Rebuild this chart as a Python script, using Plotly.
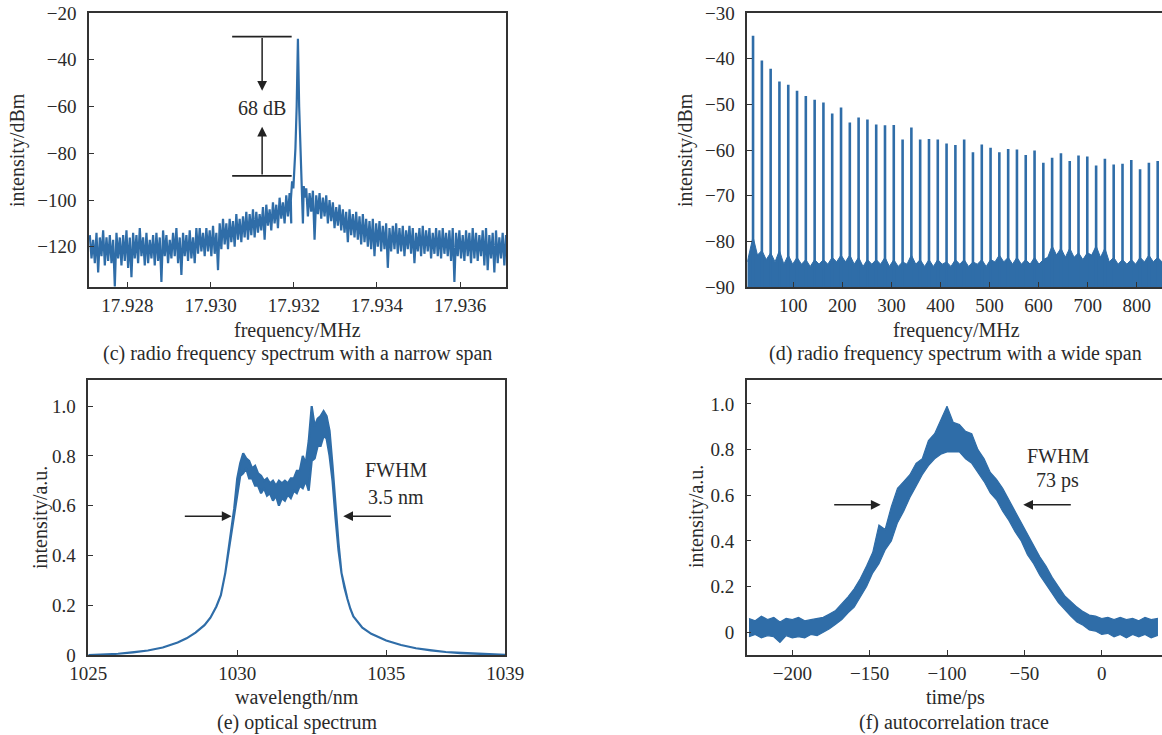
import numpy as np
import plotly.graph_objects as go

# ---------------- data ----------------
# (c) narrow-span RF spectrum: noise envelope (upper / lower)
c_left_upper = [-115,-117,-114,-116,-113,-116,-115,-117,-114,-116,
                -115,-113,-116,-114,-115,-112,-116,-114,-117,-115,
                -114,-116,-113,-115,-117,-114,-112,-116,-114,-115,
                -113,-116,-112,-112,-114,-112,-113,-111,-114,-110,
                -108,-110,-108,-109,-106,-108,-107,-105,-106,-104,
                -105,-106,-103,-102,-104,-101,-102,-99,-101,-98,
                -97]
c_left_lower = [-125,-127,-131,-124,-128,-126,-127,-137,-125,-128,
                -126,-129,-133,-125,-127,-124,-128,-127,-125,-128,
                -126,-135,-124,-127,-125,-124,-127,-132,-124,-126,
                -125,-127,-123,-122,-124,-122,-124,-123,-130,-121,
                -119,-121,-118,-120,-117,-118,-116,-117,-115,-116,
                -114,-113,-117,-111,-113,-110,-112,-108,-110,-107,
                -110]
c_peak_freq = [17.93193, 17.93196, 17.93199, 17.93201, 17.93204, 17.93207, 17.93210,
               17.93213, 17.93216, 17.93219, 17.93222, 17.93224, 17.93227]
c_peak_dbm = [-100, -92, -95, -88, -78, -60, -31, -60, -78, -88, -110, -94, -99]
c_right_upper = [-95,-97,-96,-98,-97,-99,-98,-100,-101,-103,
                 -102,-104,-105,-104,-106,-105,-107,-106,-108,-109,
                 -108,-110,-109,-111,-110,-112,-111,-110,-112,-111,
                 -113,-111,-112,-114,-112,-111,-113,-112,-114,-112,
                 -113,-112,-114,-113,-112,-114,-113,-115,-113,-114,
                 -112,-114,-115,-113,-112,-115,-114,-113,-116,-114,
                 -115]
c_right_lower = [-107,-105,-117,-106,-108,-107,-110,-109,-112,-111,
                 -113,-114,-118,-115,-116,-117,-119,-118,-120,-121,
                 -124,-120,-122,-121,-129,-122,-121,-123,-122,-124,
                 -121,-123,-127,-122,-124,-123,-122,-125,-123,-124,
                 -125,-123,-124,-126,-135,-124,-125,-126,-124,-127,
                 -125,-126,-124,-128,-130,-125,-131,-127,-125,-128,
                 -126]
c_xticks = [17.928, 17.930, 17.932, 17.934, 17.936]

# (d) wide-span RF spectrum
d_peak_freq = [17.9, 35.9, 53.8, 71.7, 89.7, 107.6, 125.5, 143.5, 161.4, 179.3,
               197.3, 215.2, 233.1, 251.1, 269.0, 286.9, 304.8, 322.8, 340.7, 358.6,
               376.6, 394.5, 412.4, 430.4, 448.3, 466.2, 484.2, 502.1, 520.0, 538.0,
               555.9, 573.8, 591.8, 609.7, 627.6, 645.6, 663.5, 681.4, 699.3, 717.3,
               735.2, 753.1, 771.1, 789.0, 806.9, 824.9, 842.8]
d_peak_dbm = [-35.0, -40.4, -42.2, -45.0, -45.7, -47.0, -48.2, -49.0, -49.6, -52.0,
              -50.7, -54.0, -52.9, -53.3, -54.4, -54.6, -54.5, -57.7, -55.1, -57.7,
              -57.6, -57.7, -58.6, -58.9, -57.7, -60.5, -58.8, -59.5, -60.5, -59.8,
              -59.9, -61.1, -60.1, -62.8, -61.7, -60.7, -62.4, -61.2, -61.4, -63.4,
              -61.9, -63.2, -63.0, -62.2, -64.2, -62.8, -62.4]
d_floor_at_peaks = [-79.0, -82.0, -82.5, -82.0, -83.0, -83.5, -84.0, -84.0, -84.0, -83.5,
                    -83.0, -83.0, -83.5, -84.0, -84.0, -83.5, -84.0, -84.5, -83.0, -84.0,
                    -84.0, -84.0, -84.5, -84.0, -84.0, -84.5, -84.0, -84.0, -83.0, -83.5,
                    -83.5, -84.0, -83.5, -84.0, -81.0, -81.5, -81.5, -82.5, -82.5, -81.0,
                    -81.5, -83.5, -84.0, -84.0, -83.5, -83.0, -83.5]
d_floor_between = [-84.5, -83.0, -84.0, -84.5, -85.0, -85.0, -85.0, -85.5, -85.0, -85.0,
                   -84.5, -84.5, -85.0, -85.5, -85.0, -85.0, -85.5, -85.5, -85.0, -85.0,
                   -85.5, -85.5, -85.0, -85.5, -85.0, -85.5, -85.0, -85.5, -84.5, -84.5,
                   -85.0, -85.0, -85.0, -85.0, -83.5, -83.0, -83.5, -83.5, -84.0, -83.0,
                   -83.5, -84.5, -85.0, -85.0, -85.0, -84.5, -84.5, -84.5]
d_xticks = [100, 200, 300, 400, 500, 600, 700, 800]

# (e) optical spectrum
e_wl = [1025.0, 1025.5, 1026.0, 1026.5, 1027.0, 1027.5, 1028.0, 1028.3, 1028.6, 1028.9,
        1029.1, 1029.3, 1029.45, 1029.6, 1029.7, 1029.8,
        1029.9, 1030.0, 1030.1, 1030.2, 1030.3, 1030.4, 1030.5, 1030.6, 1030.7, 1030.8,
        1030.9, 1031.0, 1031.1, 1031.2, 1031.3, 1031.4, 1031.5, 1031.6, 1031.7, 1031.8,
        1031.9, 1032.0, 1032.1, 1032.2, 1032.3, 1032.4, 1032.5, 1032.6, 1032.7, 1032.8,
        1032.9, 1033.0, 1033.1, 1033.2, 1033.3, 1033.4,
        1033.5, 1033.6, 1033.7, 1033.8, 1033.9, 1034.2, 1034.5, 1035.0, 1035.5, 1036.0,
        1036.5, 1037.0, 1037.5, 1038.0, 1038.5, 1039.0]
e_upper = [0.0, 0.002, 0.005, 0.01, 0.018, 0.03, 0.05, 0.067, 0.09, 0.12,
           0.15, 0.195, 0.24, 0.33, 0.41, 0.50,
           0.59, 0.71, 0.77, 0.81, 0.79, 0.78, 0.75, 0.76, 0.73, 0.72,
           0.70, 0.71, 0.69, 0.70, 0.68, 0.70, 0.69, 0.70, 0.69, 0.71,
           0.71, 0.74, 0.74, 0.80, 0.77, 0.86, 1.00, 0.92, 0.95, 0.96,
           0.98, 0.96, 0.90, 0.76, 0.59, 0.45,
           0.33, 0.27, 0.225, 0.185, 0.155, 0.11, 0.085, 0.058, 0.04, 0.027,
           0.018, 0.012, 0.007, 0.004, 0.002, 0.001]
e_lower = [0.0, 0.002, 0.005, 0.01, 0.018, 0.03, 0.05, 0.067, 0.09, 0.12,
           0.15, 0.195, 0.24, 0.33, 0.41, 0.50,
           0.56, 0.64, 0.72, 0.73, 0.75, 0.71, 0.71, 0.68, 0.68, 0.65,
           0.67, 0.64, 0.65, 0.62, 0.64, 0.60, 0.63, 0.62, 0.645, 0.63,
           0.66, 0.65, 0.68, 0.67, 0.70, 0.66, 0.78, 0.79, 0.84, 0.84,
           0.88, 0.87, 0.80, 0.70, 0.55, 0.42,
           0.33, 0.27, 0.225, 0.185, 0.155, 0.11, 0.085, 0.058, 0.04, 0.027,
           0.018, 0.012, 0.007, 0.004, 0.002, 0.001]
e_xticks = [1025, 1030, 1035, 1039]

# (f) autocorrelation trace
f_time = list(range(-228, 37, 4))
f_upper = [0.06, 0.05, 0.07, 0.055, 0.065, 0.045, 0.06, 0.055, 0.065, 0.05,
           0.055, 0.06, 0.065, 0.08, 0.095, 0.125, 0.155, 0.19, 0.235, 0.29,
           0.35, 0.47, 0.45, 0.55, 0.63, 0.66, 0.69, 0.74, 0.76, 0.84,
           0.87, 0.93, 0.99, 0.92, 0.91, 0.88, 0.87, 0.80, 0.76, 0.70,
           0.67, 0.63, 0.58, 0.53, 0.48, 0.43, 0.38, 0.33, 0.29, 0.24,
           0.20, 0.16, 0.135, 0.11, 0.09, 0.075, 0.07, 0.06, 0.065, 0.055,
           0.065, 0.055, 0.06, 0.05, 0.065, 0.055, 0.06]
f_lower = [-0.02, -0.01, -0.025, -0.015, -0.02, -0.045, -0.015, -0.025, -0.02, -0.025,
           -0.01, -0.015, 0.0, 0.015, 0.035, 0.055, 0.085, 0.11, 0.155, 0.20,
           0.26, 0.30, 0.36, 0.40, 0.48, 0.53, 0.59, 0.64, 0.69, 0.73,
           0.76, 0.78, 0.79, 0.79, 0.79, 0.76, 0.74, 0.70, 0.66, 0.61,
           0.58, 0.53, 0.49, 0.44, 0.40, 0.34, 0.30, 0.25, 0.21, 0.17,
           0.13, 0.10, 0.07, 0.045, 0.03, 0.01, 0.005, -0.01, -0.005, -0.02,
           -0.01, -0.025, -0.01, -0.02, -0.01, -0.025, -0.015]
f_xticks = [-200, -150, -100, -50, 0]

norm_ticks = [0, 0.2, 0.4, 0.6, 0.8, 1.0]
norm_labels = ["0", "0.2", "0.4", "0.6", "0.8", "1.0"]

# ---------------- styling ----------------
BLUE = "#2f6da8"
INK = "#2a2a2a"
FONT = "Liberation Serif"
FS = 20
FS_TICK = 19
W, H = 1162, 735


def px(xp):
    return xp / W


def py(yp):
    return 1 - yp / H


def zigzag(xs, up, lo, half):
    X, Y = [], []
    for x, u, l in zip(xs, up, lo):
        X.append(x)
        Y.append(u)
        if abs(u - l) > 1e-9:
            X.append(x + half)
            Y.append(l)
    return X, Y


def band(xs, up, lo):
    xs = list(xs)
    return xs + xs[::-1], list(up) + list(lo)[::-1]


fig = go.Figure()

# (c)
c_step = 0.00008
c_left_freq = np.linspace(17.92710, 17.92710 + c_step * (len(c_left_upper) - 1), len(c_left_upper))
c_right_freq = np.linspace(17.93230, 17.93230 + c_step * (len(c_right_upper) - 1), len(c_right_upper))
lx, ly = zigzag(c_left_freq, c_left_upper, c_left_lower, c_step / 2)
rx, ry = zigzag(c_right_freq, c_right_upper, c_right_lower, c_step / 2)
fig.add_trace(go.Scatter(x=lx + c_peak_freq + rx, y=ly + c_peak_dbm + ry, mode="lines",
                         line=dict(color=BLUE, width=2.2), xaxis="x", yaxis="y",
                         showlegend=False, hoverinfo="skip"))

# (d)
d_xmin, d_xmax, d_ymin = 6.2, 851.6, -90
fx, fy = [d_xmin], [d_floor_between[0]]
for i, p in enumerate(d_peak_freq):
    fx.append(p)
    fy.append(d_floor_at_peaks[i])
    nxt = d_peak_freq[i + 1] if i + 1 < len(d_peak_freq) else None
    fx.append((p + nxt) / 2 if nxt is not None else d_xmax)
    fy.append(d_floor_between[i + 1])
fig.add_trace(go.Scatter(x=fx + [d_xmax, d_xmin], y=fy + [d_ymin, d_ymin], mode="lines",
                         fill="toself", fillcolor=BLUE, line=dict(color=BLUE, width=1),
                         xaxis="x2", yaxis="y2", showlegend=False, hoverinfo="skip"))
px_, py_ = [], []
for p, v in zip(d_peak_freq, d_peak_dbm):
    px_ += [p, p, None]
    py_ += [d_ymin, v, None]
fig.add_trace(go.Scatter(x=px_, y=py_, mode="lines", line=dict(color=BLUE, width=2.6),
                         xaxis="x2", yaxis="y2", showlegend=False, hoverinfo="skip"))

# (e)
ex, ey = band(e_wl, e_upper, e_lower)
fig.add_trace(go.Scatter(x=ex, y=ey, mode="lines", fill="toself", fillcolor=BLUE,
                         line=dict(color=BLUE, width=2.2),
                         xaxis="x3", yaxis="y3", showlegend=False, hoverinfo="skip"))

# (f)
fx2, fy2 = band(f_time, f_upper, f_lower)
fig.add_trace(go.Scatter(x=fx2, y=fy2, mode="lines", fill="toself", fillcolor=BLUE,
                         line=dict(color=BLUE, width=1.2),
                         xaxis="x4", yaxis="y4", showlegend=False, hoverinfo="skip"))

axis_common = dict(showline=True, linecolor="#333333", linewidth=1.5, ticks="inside",
                   ticklen=5, tickwidth=1.2, tickcolor="#333333", showgrid=False,
                   zeroline=False, automargin=False,
                   tickfont=dict(family=FONT, size=FS_TICK, color=INK))

fig.update_layout(
    template="none",
    width=W, height=H, margin=dict(l=0, r=0, t=0, b=0),
    paper_bgcolor="white", plot_bgcolor="white", showlegend=False,
    xaxis=dict(axis_common, domain=[px(89), px(506)], range=[17.92708, 17.93710],
               tickvals=c_xticks, tickformat=".3f", mirror=True, anchor="y",
               ticklabelstandoff=0),
    yaxis=dict(axis_common, domain=[py(287), py(13)], range=[-137.2, -20],
               dtick=20, tick0=-20, mirror=True, anchor="x", ticklabelstandoff=7),
    xaxis2=dict(axis_common, domain=[px(747.3), 1.0], range=[d_xmin, d_xmax],
                tickvals=d_xticks, mirror=True, anchor="y2", ticklabelstandoff=0),
    yaxis2=dict(axis_common, domain=[py(287), py(13)], range=[-90, -30],
                dtick=10, tick0=-30, mirror=False, anchor="x2", ticklabelstandoff=7),
    xaxis3=dict(axis_common, domain=[px(88.3), px(505.3)], range=[1025, 1039],
                tickvals=e_xticks, mirror=True, anchor="y3", ticklabelstandoff=0),
    yaxis3=dict(axis_common, domain=[py(655), py(380)], range=[0, 1.105],
                tickvals=norm_ticks, ticktext=norm_labels, mirror=True, anchor="x3",
                ticklabelstandoff=7),
    xaxis4=dict(axis_common, domain=[px(746.7), 1.0], range=[-229.5, 39],
                tickvals=f_xticks, mirror=True, anchor="y4", ticklabelstandoff=0),
    yaxis4=dict(axis_common, domain=[py(655), py(380)], range=[-0.1, 1.105],
                tickvals=norm_ticks, ticktext=norm_labels, mirror=False, anchor="x4",
                ticklabelstandoff=7),
)

tfont = dict(family=FONT, size=FS, color=INK)
ann = []


def label(text, xp, yp, angle=0):
    ann.append(dict(text=text, x=px(xp), y=py(yp), xref="paper", yref="paper",
                    showarrow=False, xanchor="center", yanchor="middle",
                    textangle=angle, font=tfont))


label("intensity/dBm", 17, 150, -90)
label("intensity/dBm", 685, 150, -90)
label("intensity/a.u.", 40, 517, -90)
label("intensity/a.u.", 696, 517, -90)
label("frequency/MHz", 297, 331)
label("frequency/MHz", 956, 331)
label("wavelength/nm", 297, 697)
label("time/ps", 955, 697)
label("(c) radio frequency spectrum with a narrow span", 297, 353)
label("(d) radio frequency spectrum with a wide span", 955, 353)
label("(e) optical spectrum", 297, 722)
label("(f) autocorrelation trace", 954, 722)


def arrow(xr, yr, x, y, ax, ay):
    ann.append(dict(x=x, y=y, ax=ax, ay=ay, xref=xr, yref=yr, axref=xr, ayref=yr,
                    text="", showarrow=True, arrowhead=2, arrowsize=1.3,
                    arrowwidth=1.5, arrowcolor="#222222", standoff=0, startstandoff=0))


def dtext(xr, yr, text, x, y):
    ann.append(dict(x=x, y=y, xref=xr, yref=yr, text=text, showarrow=False,
                    xanchor="center", yanchor="middle", font=tfont))


# (c) annotation
arrow("x", "y", 17.93124, -53.3, 17.93124, -30.1)
arrow("x", "y", 17.93124, -68.7, 17.93124, -89.7)
dtext("x", "y", "68 dB", 17.93124, -60.8)
# (e)
arrow("x3", "y3", 1029.81, 0.558, 1028.19, 0.558)
arrow("x3", "y3", 1033.56, 0.558, 1035.21, 0.558)
dtext("x3", "y3", "FWHM", 1035.32, 0.743)
dtext("x3", "y3", "3.5 nm", 1035.32, 0.636)
# (f)
arrow("x4", "y4", -142.9, 0.558, -173.9, 0.558)
arrow("x4", "y4", -50.7, 0.558, -19.0, 0.558)
dtext("x4", "y4", "FWHM", -28.4, 0.772)
dtext("x4", "y4", "73 ps", -28.4, 0.663)

fig.update_layout(annotations=ann)

for yv in (-30.1, -89.7):
    fig.add_shape(type="line", xref="x", yref="y", x0=17.93052, x1=17.93195, y0=yv, y1=yv,
                  line=dict(color="#222222", width=1.8))

fig.write_html("out.html", config={"displayModeBar": False},
               post_script="document.body.style.margin='0';document.body.style.overflow='hidden';")
